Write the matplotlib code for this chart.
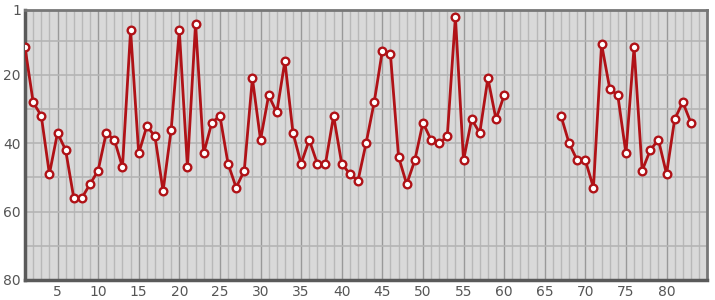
import numpy as np
import matplotlib
matplotlib.use("Agg")
import matplotlib.pyplot as plt
from matplotlib.ticker import MultipleLocator

# Data (rank per index, gap 61-66 has no values)
x = list(range(1, 84))
ranks = [12, 28, 32, 49, 37, 42, 56, 56, 52, 48,
         37, 39, 47, 7, 43, 35, 38, 54, 36, 7,
         47, 5, 43, 34, 32, 46, 53, 48, 21, 39,
         26, 31, 16, 37, 46, 39, 46, 46, 32, 46,
         49, 51, 40, 28, 13, 14, 44, 52, 45, 34,
         39, 40, 38, 3, 45, 33, 37, 21, 33, 26,
         None, None, None, None, None, None,
         32, 40, 45, 45, 53, 11, 24, 26, 43, 12,
         48, 42, 39, 49, 33, 28, 34]
y = np.array([np.nan if v is None else v for v in ranks], dtype=float)

xticks = [5, 10, 15, 20, 25, 30, 35, 40, 45, 50, 55, 60, 65, 70, 75, 80]
yticks = [1, 20, 40, 60, 80]

fig = plt.figure(figsize=(7.15, 3.0), dpi=100)
ax = fig.add_axes([0.035, 0.067, 0.954, 0.9])
ax.set_facecolor("#d9d9d9")

ax.plot(x, y, color="#b01217", lw=2, marker="o", ms=5.5,
        mfc="white", mec="#b01217", mew=1.7, zorder=3)

ax.set_xlim(1, 85)
ax.set_ylim(80, 1)

# grid: every unit on x, every 10 on y, darker every 5 on x
ax.xaxis.set_minor_locator(MultipleLocator(1))
ax.set_xticks(xticks)
ax.yaxis.set_minor_locator(MultipleLocator(10))
ax.set_yticks(yticks)
ax.grid(which="minor", axis="x", color="#b8b8b8", lw=1)
ax.grid(which="major", axis="x", color="#999999", lw=1)
ax.grid(which="minor", axis="y", color="#b4b4b4", lw=1.2)
ax.grid(which="major", axis="y", color="#b4b4b4", lw=1.2)
ax.set_axisbelow(True)

ax.tick_params(which="both", length=0, colors="#555555", labelsize=10)
ax.tick_params(axis="x", pad=4)
ax.tick_params(axis="y", pad=3)

for side in ["left", "bottom"]:
    ax.spines[side].set_color("#5a5a5a")
    ax.spines[side].set_linewidth(2.5)
for side in ["top", "right"]:
    ax.spines[side].set_color("#777777")
    ax.spines[side].set_linewidth(2)

fig.savefig("out.png", dpi=100)
